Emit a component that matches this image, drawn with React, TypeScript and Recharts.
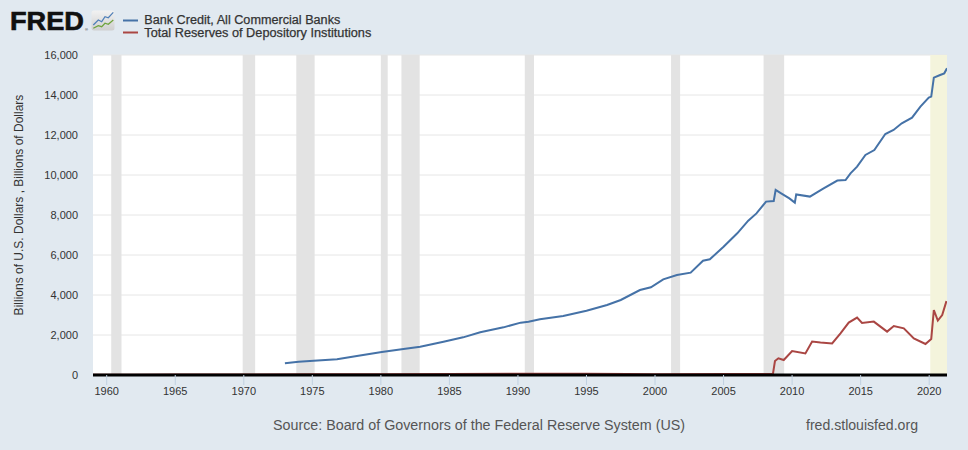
import React from 'react';
import { LineChart, Line, XAxis, YAxis, CartesianGrid, ReferenceArea } from 'recharts';

// Bank Credit, All Commercial Banks (billions of USD)
const bankYears = [
  1973.0, 1974.0, 1975.1, 1976.8, 1978.25, 1980.07, 1981.65, 1982.87, 1984.57, 1986.0,
  1987.25, 1988.95, 1990.2, 1990.77, 1991.6, 1993.3, 1995.0, 1996.5, 1997.5, 1998.9,
  1999.7, 2000.6, 2001.6, 2002.6, 2003.5, 2004.0, 2005.0, 2006.0, 2006.8, 2007.4,
  2008.1, 2008.66, 2008.8, 2009.2, 2009.8, 2010.2, 2010.3, 2011.3, 2012.3, 2013.3,
  2013.9, 2014.26, 2014.74, 2015.35, 2016.0, 2016.8, 2017.4, 2018.0, 2018.75, 2019.36,
  2019.97, 2020.15, 2020.34, 2020.8, 2021.1, 2021.3,
];
const bankValues = [
  590, 660, 717, 783, 950, 1150, 1300, 1417, 1667, 1883,
  2133, 2383, 2617, 2667, 2783, 2950, 3217, 3500, 3750, 4250,
  4383, 4783, 5000, 5117, 5717, 5783, 6417, 7083, 7717, 8080,
  8670, 8700, 9250, 9080, 8830, 8620, 9030, 8920, 9330, 9720,
  9750, 10083, 10420, 11000, 11250, 12050, 12250, 12583, 12867, 13417,
  13867, 13917, 14867, 15000, 15083, 15333,
];

// Total Reserves of Depository Institutions (billions of USD)
const reserveYears = [
  1959.0, 1962.0, 1965.0, 1968.0, 1970.0, 1975.0, 1980.0, 1985.0, 1990.0, 1993.0,
  1995.0, 1998.0, 2000.0, 2005.0, 2008.6, 2008.75, 2009.0, 2009.39, 2010.0, 2010.97,
  2011.46, 2012.07, 2012.92, 2013.53, 2014.13, 2014.74, 2015.1, 2015.96, 2016.93, 2017.42,
  2018.15, 2018.88, 2019.73, 2020.15, 2020.34, 2020.63, 2020.95, 2021.26,
];
const reserveValues = [
  11, 17, 22, 27, 30, 37, 42, 48, 60, 58,
  58, 45, 39, 45, 45, 700, 835, 750, 1200, 1080,
  1670, 1620, 1580, 2080, 2620, 2870, 2600, 2670, 2170, 2450,
  2330, 1830, 1550, 1800, 3250, 2720, 3000, 3700,
];

const recessionStarts = [1960.33, 1969.92, 1973.83, 1980.0, 1981.5, 1990.5, 2001.17, 2007.92];
const recessionEnds = [1961.08, 1970.83, 1975.17, 1980.5, 1982.83, 1991.17, 2001.83, 2009.42];
const ongoingStart = 2020.08;

const xTicks = [1960, 1965, 1970, 1975, 1980, 1985, 1990, 1995, 2000, 2005, 2010, 2015, 2020];
const yTicks = [0, 2000, 4000, 6000, 8000, 10000, 12000, 14000, 16000];

const X_MIN = 1959.0;
const X_MAX = 2021.3;

const bankData = bankYears.map((y, i) => ({ year: y, value: bankValues[i] }));
const reserveData = reserveYears.map((y, i) => ({ year: y, value: reserveValues[i] }));

const FONT = '"Liberation Sans", Arial, Helvetica, sans-serif';

export default function App() {
  return (
    <div
      style={{
        position: 'absolute',
        left: 0,
        top: 0,
        width: 968,
        height: 450,
        background: '#e1e9f0',
        fontFamily: FONT,
        overflow: 'hidden',
      }}
    >
      <LineChart width={968} height={450} margin={{ top: 55, right: 21, bottom: 45, left: 33 }}>
        <CartesianGrid horizontal vertical={false} stroke="#e6e6e6" fill="#ffffff" />
        {recessionStarts.map((s, i) => (
          <ReferenceArea
            key={'r' + i}
            x1={s}
            x2={recessionEnds[i]}
            fill="#e3e3e3"
            fillOpacity={1}
            stroke="none"
            ifOverflow="hidden"
          />
        ))}
        <ReferenceArea
          x1={ongoingStart}
          x2={X_MAX}
          fill="#f4f4dc"
          fillOpacity={1}
          stroke="none"
          ifOverflow="hidden"
        />
        <XAxis
          type="number"
          dataKey="year"
          domain={[X_MIN, X_MAX]}
          allowDataOverflow
          ticks={xTicks}
          interval={0}
          height={30}
          tickSize={10}
          tickMargin={2}
          axisLine={{ stroke: '#000000', strokeWidth: 3 }}
          tickLine={{ stroke: '#c0d0e0' }}
          tick={{ fontSize: 11, fill: '#333333' }}
        />
        <YAxis
          type="number"
          domain={[0, 16000]}
          allowDataOverflow
          ticks={yTicks}
          interval={0}
          width={60}
          tickSize={0}
          tickMargin={15}
          axisLine={false}
          tickLine={false}
          tick={{ fontSize: 11, fill: '#333333' }}
          tickFormatter={(v: number) => v.toLocaleString('en-US')}
        />
        <Line
          data={reserveData}
          dataKey="value"
          type="linear"
          stroke="#aa4643"
          strokeWidth={2}
          dot={false}
          isAnimationActive={false}
        />
        <Line
          data={bankData}
          dataKey="value"
          type="linear"
          stroke="#4572a7"
          strokeWidth={2}
          dot={false}
          isAnimationActive={false}
        />
      </LineChart>
      <svg
        width={968}
        height={450}
        style={{ position: 'absolute', left: 0, top: 0, pointerEvents: 'none' }}
      >
        <defs>
          <linearGradient id="iconBg" x1="0" y1="0" x2="0" y2="1">
            <stop offset="0%" stopColor="#f2f2f2" />
            <stop offset="100%" stopColor="#cfcfcf" />
          </linearGradient>
        </defs>
        <text
          x={10}
          y={30}
          fontFamily={FONT}
          fontSize={25}
          fontWeight={900}
          fill="#111111"
          stroke="#111111"
          strokeWidth={0.6}
          textLength={74}
          lengthAdjust="spacingAndGlyphs"
        >
          FRED
        </text>
        <text x={85} y={31} fontFamily={FONT} fontSize={4} fill="#111111">®</text>
        <rect x={91.5} y={10.5} width={23} height={20} rx={2.5} fill="url(#iconBg)" />
        <polyline
          points="93.3,25 98.3,20 101.7,21.7 105,16.7 108.3,17.7 113.3,12.3"
          fill="none"
          stroke="#4f7fb8"
          strokeWidth={1.2}
        />
        <polyline
          points="93.3,28.3 98.3,25.7 101.7,26.7 105,23.3 108.3,24.3 113.3,20"
          fill="none"
          stroke="#6ea33c"
          strokeWidth={1.2}
        />
        <line x1={123} y1={20.5} x2={138} y2={20.5} stroke="#4572a7" strokeWidth={2} />
        <line x1={123} y1={32.5} x2={138} y2={32.5} stroke="#aa4643" strokeWidth={2} />
        <text x={144.3} y={24} fontFamily={FONT} fontSize={12.5} fill="#333333" stroke="#333333" strokeWidth={0.25} textLength={196} lengthAdjust="spacingAndGlyphs">
          Bank Credit, All Commercial Banks
        </text>
        <text x={144.3} y={37} fontFamily={FONT} fontSize={12.5} fill="#333333" stroke="#333333" strokeWidth={0.25} textLength={227} lengthAdjust="spacingAndGlyphs">
          Total Reserves of Depository Institutions
        </text>
        <text
          transform="rotate(-90)"
          x={-205}
          y={22.5}
          textAnchor="middle"
          fontFamily={FONT}
          fontSize={12}
          fill="#333333"
        >
          Billions of U.S. Dollars , Billions of Dollars
        </text>
        <text x={273} y={430} fontFamily={FONT} fontSize={14} fill="#555555" textLength={412} lengthAdjust="spacingAndGlyphs">
          Source: Board of Governors of the Federal Reserve System (US)
        </text>
        <text x={806} y={430} fontFamily={FONT} fontSize={14} fill="#555555" textLength={112} lengthAdjust="spacingAndGlyphs">
          fred.stlouisfed.org
        </text>
      </svg>
    </div>
  );
}
